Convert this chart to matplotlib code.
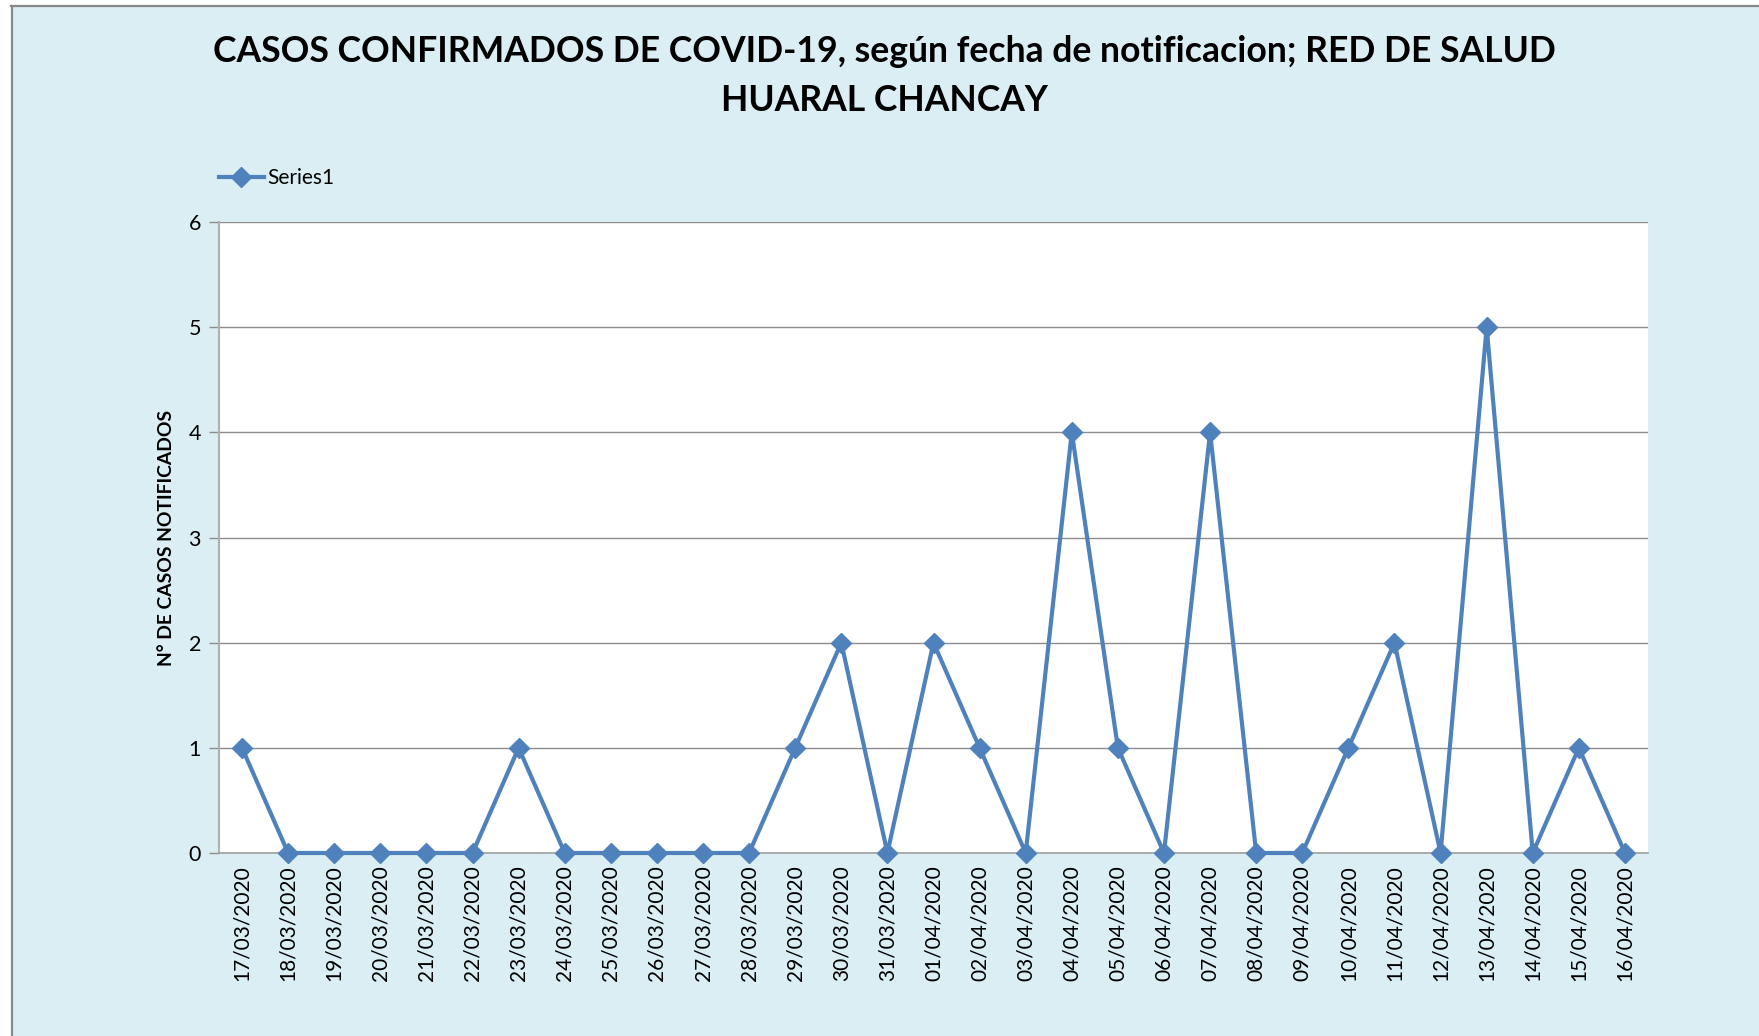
import matplotlib.pyplot as plt
from matplotlib.patches import Rectangle

plt.rcParams['font.family'] = ['Lato', 'DejaVu Sans']

# fechas de notificacion y casos
fechas = ['17/03/2020', '18/03/2020', '19/03/2020', '20/03/2020', '21/03/2020',
          '22/03/2020', '23/03/2020', '24/03/2020', '25/03/2020', '26/03/2020',
          '27/03/2020', '28/03/2020', '29/03/2020', '30/03/2020', '31/03/2020',
          '01/04/2020', '02/04/2020', '03/04/2020', '04/04/2020', '05/04/2020',
          '06/04/2020', '07/04/2020', '08/04/2020', '09/04/2020', '10/04/2020',
          '11/04/2020', '12/04/2020', '13/04/2020', '14/04/2020', '15/04/2020',
          '16/04/2020']
casos = [1, 0, 0, 0, 0, 0, 1, 0, 0, 0, 0, 0, 1, 2, 0, 2, 1, 0, 4, 1,
         0, 4, 0, 0, 1, 2, 0, 5, 0, 1, 0]
y_ticks = [0, 1, 2, 3, 4, 5, 6]

azul = '#4F81BD'
fondo = '#DAEEF3'
gris = '#8C8C8C'

fig = plt.figure(figsize=(17.59, 10.36), dpi=100)
fig.patch.set_facecolor('white')
# marco celeste del grafico de excel
fig.patches.append(Rectangle((11 / 1759, 0), 1 - 11 / 1759, 1 - 6 / 1036,
                             transform=fig.transFigure, facecolor=fondo,
                             edgecolor='none', zorder=-5))
fig.add_artist(plt.Line2D([12 / 1759, 12 / 1759], [0, 1 - 6 / 1036],
                          transform=fig.transFigure, color='#888888', lw=1.6, zorder=-4))
fig.add_artist(plt.Line2D([11 / 1759, 1], [1 - 6 / 1036, 1 - 6 / 1036],
                          transform=fig.transFigure, color='#888888', lw=1.6, zorder=-4))

ax = fig.add_axes([219 / 1759, 1 - 853 / 1036, (1648 - 219) / 1759, (853 - 222) / 1036])
ax.set_facecolor('white')

x = list(range(len(fechas)))
ax.plot(x, casos, color=azul, lw=3, marker='D', markersize=10,
        label='Series1', zorder=3, clip_on=False)

ax.set_xlim(-0.5, len(fechas) - 0.5)
ax.set_ylim(0, 6)
ax.set_yticks(y_ticks)
ax.set_xticks(x)
ax.set_xticklabels(fechas, rotation=90, fontsize=15)
ax.tick_params(axis='y', labelsize=15.5, length=7, color=gris, width=1, pad=6)
ax.tick_params(axis='x', length=0, pad=9)
ax.grid(axis='y', color=gris, lw=1)
ax.set_axisbelow(True)

for s in ['top', 'right']:
    ax.spines[s].set_visible(False)
ax.spines['left'].set_color('#B0B0B0')
ax.spines['left'].set_linewidth(1.5)
ax.spines['bottom'].set_color('#A0A0A0')
ax.spines['bottom'].set_linewidth(1.2)

ax.set_ylabel('N° DE CASOS NOTIFICADOS', fontsize=13.9, fontweight='bold', labelpad=10)

fig.text(0.503, 0.950, 'CASOS CONFIRMADOS DE COVID-19, según fecha de notificacion; RED DE SALUD',
         ha='center', va='center', fontsize=25.6, fontweight='bold')
fig.text(0.503, 0.903, 'HUARAL CHANCAY', ha='center', va='center',
         fontsize=25.6, fontweight='bold')

ax.legend(loc='lower left', bbox_to_anchor=(219 / 1759, 1 - 188 / 1036),
          bbox_transform=fig.transFigure, frameon=False, fontsize=15,
          handlelength=2.15, handletextpad=0.15, borderpad=0, borderaxespad=0)

fig.savefig('out.png', dpi=100, facecolor=fig.get_facecolor())
